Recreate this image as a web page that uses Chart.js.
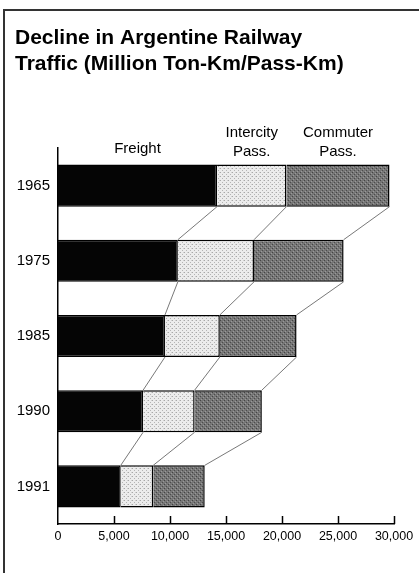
<!DOCTYPE html>
<html>
<head>
<meta charset="utf-8">
<script src="https://cdn.jsdelivr.net/npm/chart.js@4"></script>
<style>
  body { margin: 0; background: #fff; }
  #wrap { position: relative; width: 419px; height: 573px; }
  #frame { position: absolute; left: 3px; top: 9px; width: 420px; height: 570px;
           border-left: 2px solid #333; border-top: 2px solid #333; pointer-events: none; }
</style>
</head>
<body>
<div id="wrap">
  <canvas id="chart1" width="419" height="573"></canvas>
  <div id="frame"></div>
</div>
<script>
// data
var years = ['1965', '1975', '1985', '1990', '1991'];
var freight = [14200, 10700, 9550, 7600, 5600];
var intercity = [6200, 6800, 4900, 4600, 2900];
var commuter = [9200, 8000, 6850, 6000, 4600];
var seriesNames = [['Freight'], ['Intercity', 'Pass.'], ['Commuter', 'Pass.']];
var xTicks = [0, 5000, 10000, 15000, 20000, 25000, 30000];
var titleLines = ['Decline in Argentine Railway', 'Traffic (Million Ton-Km/Pass-Km)'];

var ctx = document.getElementById('chart1').getContext('2d');

function makePattern(bg, dots) {
    var c = document.createElement('canvas');
    c.width = 4; c.height = 4;
    var g = c.getContext('2d');
    g.fillStyle = bg;
    g.fillRect(0, 0, 4, 4);
    dots.forEach(function(d) {
        g.fillStyle = d[2];
        g.fillRect(d[0], d[1], 1, 1);
    });
    return ctx.createPattern(c, 'repeat');
}

var lightDots = makePattern('#ececec', [[0, 0, '#a8a8a8'], [2, 2, '#b4b4b4'], [3, 0, '#d0d0d0']]);
var darkDots = makePattern('#767676', [[0, 0, '#444'], [2, 2, '#4c4c4c'], [1, 3, '#9a9a9a'], [3, 1, '#999']]);

// title, series headers, axis tick marks and connector lines
var extras = {
    id: 'extras',
    afterDraw: function(chart) {
        var c = chart.ctx;
        var xs = chart.scales.x;
        var area = chart.chartArea;
        c.save();

        // title
        c.fillStyle = '#000';
        c.font = 'bold 21px "Liberation Sans", Arial, sans-serif';
        c.textBaseline = 'alphabetic';
        c.textAlign = 'left';
        c.fillText(titleLines[0], 15, 44);
        c.fillText(titleLines[1], 15, 70);

        // series headers over the first bar
        c.font = '15px "Liberation Sans", Arial, sans-serif';
        c.textAlign = 'center';
        c.textBaseline = 'middle';
        var start = 0;
        [freight, intercity, commuter].forEach(function(arr, k) {
            var mid = xs.getPixelForValue(start + arr[0] / 2);
            start += arr[0];
            var lines = seriesNames[k];
            if (lines.length === 1) {
                c.fillText(lines[0], mid, 149);
            } else {
                c.fillText(lines[0], mid, 133);
                c.fillText(lines[1], mid, 152);
            }
        });

        // tick marks pointing up from the axis
        c.strokeStyle = '#000';
        c.lineWidth = 1.5;
        xTicks.forEach(function(v) {
            if (v === 0) return;
            var px = Math.round(xs.getPixelForValue(v)) + 0.5;
            c.beginPath();
            c.moveTo(px, area.bottom);
            c.lineTo(px, area.bottom - 8);
            c.stroke();
        });

        // connector lines between bars
        c.strokeStyle = '#555';
        c.lineWidth = 0.8;
        for (var d = 0; d < 3; d++) {
            var meta = chart.getDatasetMeta(d);
            for (var i = 0; i < years.length - 1; i++) {
                var a = meta.data[i], b = meta.data[i + 1];
                c.beginPath();
                c.moveTo(a.x, a.y + a.height / 2);
                c.lineTo(b.x, b.y - b.height / 2);
                c.stroke();
            }
        }
        c.restore();
    }
};

var myChart = new Chart(ctx, {
    type: 'bar',
    data: {
        labels: years,
        datasets: [{
            label: 'Freight',
            data: freight,
            backgroundColor: '#050505',
            borderColor: '#000',
            borderWidth: 1.5
        }, {
            label: 'Intercity Pass.',
            data: intercity,
            backgroundColor: lightDots,
            borderColor: '#000',
            borderWidth: 1.5
        }, {
            label: 'Commuter Pass.',
            data: commuter,
            backgroundColor: darkDots,
            borderColor: '#000',
            borderWidth: 1.5
        }]
    },
    options: {
        indexAxis: 'y',
        responsive: false,
        animation: false,
        maintainAspectRatio: false,
        categoryPercentage: 1,
        barPercentage: 0.56,
        layout: {
            padding: { top: 148, right: 25, left: 0, bottom: 0 }
        },
        scales: {
            x: {
                stacked: true,
                min: 0,
                max: 30000,
                afterBuildTicks: function(s) {
                    s.ticks = xTicks.map(function(v) { return { value: v }; });
                },
                afterFit: function(s) { s.height = 49; },
                grid: { display: false, drawTicks: false, tickLength: 0 },
                border: { display: true, color: '#000', width: 1.5 },
                ticks: {
                    color: '#000',
                    padding: 5,
                    maxRotation: 0,
                    font: { family: '"Liberation Sans Narrow", "Liberation Sans", Arial, sans-serif', size: 12.5 },
                    callback: function(v) { return v.toLocaleString('en-US'); }
                }
            },
            y: {
                stacked: true,
                afterFit: function(s) { s.width = 58; },
                grid: { display: false, drawTicks: false, tickLength: 0 },
                border: { display: true, color: '#000', width: 1.5 },
                ticks: {
                    color: '#000',
                    padding: 8,
                    font: { family: '"Liberation Sans", Arial, sans-serif', size: 15 }
                }
            }
        },
        plugins: {
            legend: { display: false },
            tooltip: { enabled: false }
        }
    },
    plugins: [extras]
});
</script>
</body>
</html>
